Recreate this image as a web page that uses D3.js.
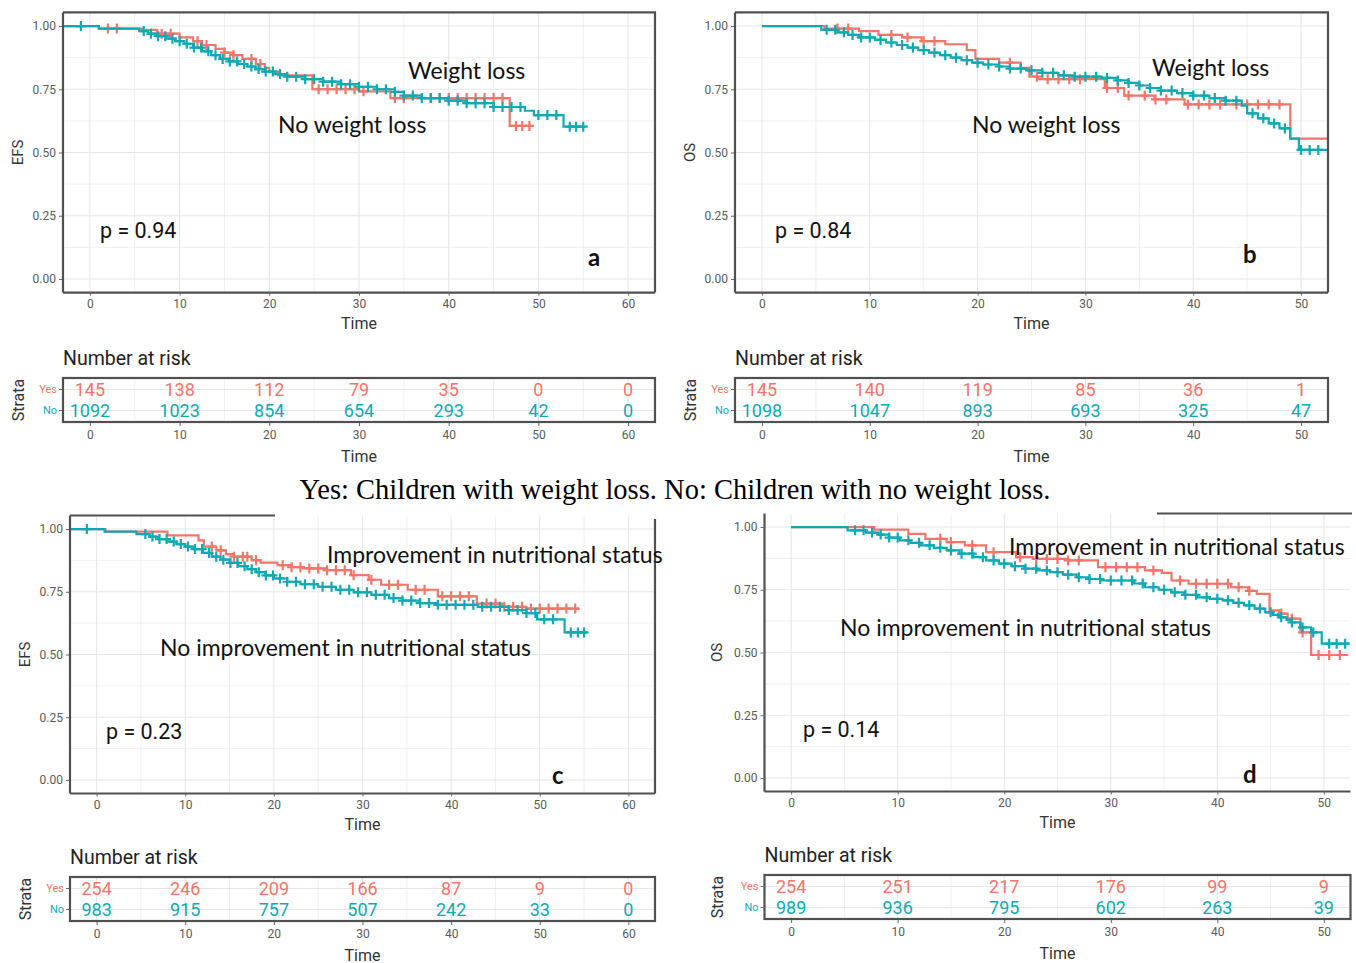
<!DOCTYPE html>
<html>
<head>
<meta charset="utf-8">
<script src="https://cdn.jsdelivr.net/npm/d3@7"></script>
<style>
  body { margin: 0; background: #fff; }
  svg { display: block; }
</style>
</head>
<body>
<svg id="fig" width="1356" height="963"></svg>
<script>
// ---- data ----
const strata = ['Yes', 'No'];
const survTicks = [0, 0.25, 0.5, 0.75, 1];
const timeTicks60 = [0, 10, 20, 30, 40, 50, 60];
const timeTicks50 = [0, 10, 20, 30, 40, 50];

// panel a: EFS, weight loss
const aYesSteps = [[-3, 1], [1, 0.99], [5.8, 0.985], [7.5, 0.97], [10, 0.955], [11.5, 0.94], [12.5, 0.925],
  [14, 0.91], [15, 0.895], [16, 0.885], [17, 0.87], [18.5, 0.85], [19.5, 0.835], [20, 0.82], [21, 0.805],
  [24.8, 0.75], [30, 0.742], [33.5, 0.715], [46.8, 0.605], [49.2, 0.605]];
const aYesCensor = [2, 3, 8, 9, 12, 13, 15, 16, 18, 19, 25.5, 26.5, 27.5, 28.5, 29.5, 30.5, 34, 35,
  38, 39, 40, 41, 42, 43, 44, 45, 46, 47.5, 48.2, 49];
const aNoSteps = [[-3, 1], [1, 0.99], [5.5, 0.98], [6.5, 0.97], [7.5, 0.96], [8.5, 0.95], [9.5, 0.94],
  [10.5, 0.93], [11.5, 0.915], [12.5, 0.9], [13.5, 0.885], [14.5, 0.87], [15.5, 0.86], [16.5, 0.85],
  [17.5, 0.84], [18.5, 0.83], [19.5, 0.82], [20.5, 0.81], [22, 0.8], [24, 0.79], [26, 0.78], [28, 0.77],
  [30, 0.76], [32, 0.75], [34, 0.74], [35, 0.725], [37, 0.715], [40, 0.705], [42, 0.695], [45, 0.68],
  [48.5, 0.665], [49.5, 0.648], [52.8, 0.602], [55.2, 0.602]];
const aNoCensor = [-1, 6, 6.8, 7.6, 8.4, 9.2, 10, 10.8, 11.6, 12.4, 13.2, 14, 14.8, 15.6, 16.4, 17.2, 18,
  18.8, 19.6, 20.4, 21.2, 22, 23, 24, 25, 26, 27, 28, 29, 30, 31, 32, 33, 34, 35, 36, 37, 38, 39, 40, 41,
  42, 43, 44, 45, 46, 47, 48, 50, 51, 52, 53.5, 54.2, 55];
const aRiskYes = [145, 138, 112, 79, 35, 0, 0];
const aRiskNo = [1092, 1023, 854, 654, 293, 42, 0];

// panel b: OS, weight loss
const bYesSteps = [[0, 1], [5.8, 0.99], [9, 0.98], [10.8, 0.965], [13, 0.955], [14.8, 0.94], [17, 0.928],
  [19, 0.905], [19.8, 0.87], [22, 0.855], [24, 0.835], [24.8, 0.8], [25.6, 0.79], [31.8, 0.755],
  [33.6, 0.725], [36.4, 0.71], [39.2, 0.69], [49, 0.555], [52.5, 0.555]];
const bYesCensor = [7, 8, 12, 13.5, 15, 16, 23, 25.5, 26.5, 27.5, 28.5, 29.5, 32, 33, 34, 35.5, 36.5,
  37.5, 39.5, 40.5, 41.5, 42.5, 44, 45, 46, 47, 48];
const bNoSteps = [[0, 1], [5.5, 0.985], [7, 0.975], [8, 0.965], [9, 0.955], [10.5, 0.945], [11.5, 0.935],
  [12.5, 0.925], [13.5, 0.915], [14.5, 0.905], [15.5, 0.895], [16.5, 0.885], [17.5, 0.875], [18.5, 0.865],
  [19.5, 0.855], [20.5, 0.848], [22, 0.84], [23, 0.832], [24.5, 0.825], [26, 0.815], [27.5, 0.805],
  [29, 0.8], [31.5, 0.795], [33, 0.785], [34, 0.775], [35, 0.765], [36, 0.755], [37, 0.745], [38.5, 0.735],
  [40, 0.725], [41.5, 0.715], [43, 0.705], [44.5, 0.685], [45, 0.655], [46, 0.635], [47, 0.615],
  [48, 0.595], [49, 0.555], [49.8, 0.51], [52.5, 0.51]];
const bNoCensor = [6, 6.8, 7.6, 8.4, 9.2, 10, 11, 12, 13, 14, 15, 16, 17, 18, 19, 20, 21, 22, 23, 24, 25,
  26, 27, 28, 29, 30, 31, 32, 33, 34, 35, 36, 37, 38, 39, 40, 41, 42, 43, 44, 45.5, 46.5, 47.5, 48.5,
  50, 50.8, 51.6];
const bRiskYes = [145, 140, 119, 85, 36, 1];
const bRiskNo = [1098, 1047, 893, 693, 325, 47];

// panel c: EFS, nutritional status
const cYesSteps = [[-3, 1], [1, 0.99], [8, 0.975], [11.5, 0.955], [12.1, 0.93], [13.5, 0.915], [14.6, 0.9],
  [15.5, 0.89], [17.5, 0.876], [18.5, 0.866], [20.4, 0.856], [22, 0.848], [23.3, 0.843], [25.8, 0.836],
  [28.7, 0.816], [30.7, 0.798], [32.1, 0.778], [35.1, 0.758], [38.5, 0.732], [42.9, 0.703], [45.8, 0.69],
  [48.5, 0.683], [54.4, 0.683]];
const cYesCensor = [13, 14, 15.5, 16.5, 17, 18, 21, 22, 23, 24, 25, 26, 27, 28, 29, 31, 33, 34, 36, 37,
  39, 40, 41, 42, 44, 45, 46, 47, 48, 49, 50, 51, 52, 53, 54];
const cNoSteps = [[-3, 1], [0.9, 0.99], [4.5, 0.98], [6, 0.97], [7, 0.96], [8, 0.95], [9, 0.94], [10, 0.93],
  [11, 0.92], [12, 0.905], [13, 0.89], [14, 0.878], [15, 0.865], [16, 0.852], [17, 0.84], [18, 0.828],
  [19, 0.815], [20, 0.803], [21.5, 0.79], [23, 0.78], [25, 0.77], [27, 0.758], [29, 0.748], [31, 0.738],
  [33, 0.725], [34.5, 0.715], [36.5, 0.705], [38.5, 0.698], [43, 0.69], [46.5, 0.677], [48.5, 0.665],
  [49.7, 0.64], [52.8, 0.588], [55.3, 0.588]];
const cNoCensor = [-1.1, 5.5, 6.3, 7.1, 7.9, 8.7, 9.5, 10.3, 11.1, 11.9, 12.7, 13.5, 14.3, 15.1, 15.9,
  16.7, 17.5, 18.3, 19.1, 19.9, 20.7, 21.5, 22.5, 23.5, 24.5, 25.5, 26.5, 27.5, 28.5, 29.5, 30.5, 31.5,
  32.5, 33.5, 34.5, 35.5, 36.5, 37.5, 38.5, 39.5, 40.5, 41.5, 42.5, 43.5, 44.5, 45.5, 46.5, 47.5, 48.5,
  49.5, 50.5, 51.5, 53.5, 54.3, 55];
const cRiskYes = [254, 246, 209, 166, 87, 9, 0];
const cRiskNo = [983, 915, 757, 507, 242, 33, 0];

// panel d: OS, nutritional status
const dYesSteps = [[0, 1], [7.8, 0.99], [11, 0.973], [12.6, 0.953], [14.6, 0.94], [16.3, 0.927], [18.3, 0.9],
  [21.1, 0.88], [22.7, 0.873], [26, 0.867], [28.8, 0.84], [33.2, 0.827], [34.8, 0.817], [35.7, 0.787],
  [37.3, 0.774], [41.3, 0.76], [42.9, 0.746], [43.7, 0.734], [44.9, 0.668], [45.8, 0.655], [46.6, 0.635],
  [47.8, 0.58], [48.8, 0.49], [52.3, 0.49]];
const dYesCensor = [14, 15, 17, 19, 21.5, 23, 24, 25, 26, 27, 29.5, 30.5, 31.5, 32.5, 34, 36.5, 38, 39,
  40, 41, 42, 43, 46, 47, 48, 49.5, 50.5, 51.5];
const dNoSteps = [[0, 1], [5.3, 0.987], [7, 0.978], [8.2, 0.97], [9.2, 0.958], [10.2, 0.947], [11.2, 0.937],
  [12.2, 0.927], [13.4, 0.917], [14.6, 0.907], [15.8, 0.894], [17.1, 0.88], [18.3, 0.867], [19.5, 0.854],
  [20.7, 0.844], [21.9, 0.834], [23.1, 0.827], [24.3, 0.82], [25.5, 0.81], [26.8, 0.8], [28, 0.793],
  [29.2, 0.787], [32.2, 0.775], [33.2, 0.76], [34.5, 0.75], [35.7, 0.74], [36.9, 0.73], [38.1, 0.72],
  [39.3, 0.714], [40.5, 0.708], [41.5, 0.698], [42.5, 0.688], [43.5, 0.675], [44.5, 0.66], [45.2, 0.65],
  [45.8, 0.64], [46.5, 0.63], [47, 0.62], [47.8, 0.6], [48.8, 0.58], [49.8, 0.535], [52.4, 0.535]];
const dNoCensor = [6, 6.8, 7.6, 8.4, 9.2, 10, 11, 12, 13, 14, 15, 16, 17, 18, 19, 20, 21, 22, 23, 24, 25,
  26, 27, 28, 29, 30, 31, 32, 33, 34, 35, 36, 37, 38, 39, 40, 41, 42, 43, 44, 45, 46, 47, 48, 49, 50.5,
  51.2, 52];
const dRiskYes = [254, 251, 217, 176, 99, 9];
const dRiskNo = [989, 936, 795, 602, 263, 39];

const caption = 'Yes: Children with weight loss. No: Children with no weight loss.';

// ---- styling ----
const RED = '#F2756A';
const TEAL = '#0FAAB1';
const GRID = '#E6E6E6';
const FRAME = '#505050';
const SANS = "Roboto, 'Liberation Sans', Arial, sans-serif";
const NOTE = "Lato, 'Open Sans', sans-serif";

const svg = d3.select('#fig');
svg.append('rect').attr('width', 1356).attr('height', 963).attr('fill', '#fff');

const stepValue = (steps, t) => {
  let s = steps[0][1];
  for (const [tt, v] of steps) {
    if (tt <= t) s = v;
    else break;
  }
  return s;
};

const styleAxis = (sel, size, fill) => {
  sel.select('.domain').remove();
  sel.selectAll('.tick line').attr('stroke', '#666');
  sel.selectAll('text')
    .attr('font-family', SANS)
    .attr('font-size', size)
    .attr('fill', fill);
};

const drawGrid = (g, x, xs, ys, top, bottom, left, right) => {
  const minorX = xs.map(t => t + 5).filter(t => x(t) < right);
  g.append('g').selectAll('line').data(minorX).join('line')
    .attr('x1', d => x(d)).attr('x2', d => x(d))
    .attr('y1', top).attr('y2', bottom)
    .attr('stroke', GRID).attr('stroke-width', 0.6);
  g.append('g').selectAll('line').data(xs).join('line')
    .attr('x1', d => x(d)).attr('x2', d => x(d))
    .attr('y1', top).attr('y2', bottom)
    .attr('stroke', GRID).attr('stroke-width', 1.1);
  g.append('g').selectAll('line').data(ys).join('line')
    .attr('x1', left).attr('x2', right)
    .attr('y1', d => d.y).attr('y2', d => d.y)
    .attr('stroke', GRID).attr('stroke-width', d => d.major ? 1.1 : 0.6);
};

const drawPanel = (c) => {
  const g = svg.append('g');
  const x = d3.scaleLinear().domain(c.xDomain).range([c.left, c.right]);
  const y = d3.scaleLinear().domain([-0.05, 1.05]).range([c.bottom, c.top]);

  const yGrid = survTicks.map(v => ({ y: y(v), major: true }))
    .concat([0.125, 0.375, 0.625, 0.875].map(v => ({ y: y(v), major: false })));
  drawGrid(g, x, c.ticks, yGrid, c.top, c.bottom, c.left, c.right);

  const line = d3.line()
    .x(d => x(d[0]))
    .y(d => y(d[1]))
    .curve(d3.curveStepAfter);

  c.curves.forEach(cv => {
    g.append('path')
      .attr('d', line(cv.steps))
      .attr('fill', 'none')
      .attr('stroke', cv.color)
      .attr('stroke-width', 2.2);
    g.append('g').selectAll('path').data(cv.censor).join('path')
      .attr('transform', d => `translate(${x(d)},${y(stepValue(cv.steps, d))})`)
      .attr('d', 'M-4.5,0H4.5M0,-5V5')
      .attr('stroke', cv.color)
      .attr('stroke-width', 2.2);
  });

  // frame (some borders are cut off in the original)
  const f = c.frame;
  const fr = g.append('g').attr('stroke', FRAME).attr('stroke-width', 2.2).attr('fill', 'none');
  fr.append('line').attr('x1', f.topFrom).attr('x2', f.topTo).attr('y1', c.top - 1).attr('y2', c.top - 1);
  fr.append('line').attr('x1', c.left).attr('x2', c.left).attr('y1', c.top - 1).attr('y2', c.bottom + 1);
  fr.append('line').attr('x1', c.left).attr('x2', c.right).attr('y1', c.bottom + 1).attr('y2', c.bottom + 1);
  if (f.rightFrom !== null) {
    fr.append('line').attr('x1', c.right).attr('x2', c.right).attr('y1', f.rightFrom).attr('y2', c.bottom + 1);
  }

  g.append('g')
    .attr('transform', `translate(${c.left - 1},0)`)
    .call(d3.axisLeft(y).tickValues(survTicks).tickFormat(d3.format('.2f')).tickSize(3).tickPadding(3))
    .call(a => styleAxis(a, 12, '#5a5a5a'));

  g.append('g')
    .attr('transform', `translate(0,${c.bottom + 1})`)
    .call(d3.axisBottom(x).tickValues(c.ticks).tickSize(3).tickPadding(4))
    .call(a => styleAxis(a, 12, '#5a5a5a'));

  g.append('text')
    .attr('x', x((c.ticks[0] + c.ticks[c.ticks.length - 1]) / 2))
    .attr('y', c.bottom + 32)
    .attr('text-anchor', 'middle')
    .attr('dominant-baseline', 'central')
    .attr('font-family', SANS).attr('font-size', 16).attr('fill', '#333')
    .text('Time');

  g.append('text')
    .attr('transform', `translate(${c.yTitleX},${y(0.5)}) rotate(-90)`)
    .attr('text-anchor', 'middle')
    .attr('dominant-baseline', 'central')
    .attr('font-family', SANS).attr('font-size', 15).attr('fill', '#333')
    .text(c.yTitle);

  c.notes.forEach(n => {
    g.append('text')
      .attr('x', n.x).attr('y', n.y)
      .attr('dominant-baseline', 'central')
      .attr('font-family', n.family).attr('font-size', n.size)
      .attr('font-weight', n.bold ? 'bold' : 'normal')
      .attr('fill', '#111')
      .text(n.text);
  });

  return x;
};

const drawRisk = (c, x) => {
  const g = svg.append('g');
  const r = c.risk;
  const y = d3.scaleBand().domain(strata).range([r.top + 1, r.bottom - 1]);
  const rowY = s => y(s) + y.bandwidth() / 2;

  drawGrid(g, x, c.ticks, strata.map(s => ({ y: rowY(s), major: true })), r.top, r.bottom, c.left, c.right);

  g.append('rect')
    .attr('x', c.left).attr('y', r.top)
    .attr('width', c.right - c.left).attr('height', r.bottom - r.top)
    .attr('fill', 'none').attr('stroke', FRAME).attr('stroke-width', 2.2);

  const rows = [{ key: 'Yes', vals: r.yes, color: RED }, { key: 'No', vals: r.no, color: TEAL }];
  rows.forEach(row => {
    g.append('g').selectAll('text').data(row.vals).join('text')
      .attr('x', (d, i) => x(c.ticks[i]))
      .attr('y', rowY(row.key))
      .attr('text-anchor', 'middle')
      .attr('dominant-baseline', 'central')
      .attr('font-family', SANS).attr('font-size', 18)
      .attr('fill', row.color)
      .text(d => d);
  });

  const ya = g.append('g')
    .attr('transform', `translate(${c.left - 1},0)`)
    .call(d3.axisLeft(y).tickSize(3).tickPadding(2))
    .call(a => styleAxis(a, 11, '#888'));
  ya.selectAll('.tick text').attr('fill', d => d === 'Yes' ? RED : TEAL);

  g.append('g')
    .attr('transform', `translate(0,${r.bottom + 1})`)
    .call(d3.axisBottom(x).tickValues(c.ticks).tickSize(3).tickPadding(4))
    .call(a => styleAxis(a, 12, '#5a5a5a'));

  g.append('text')
    .attr('x', x((c.ticks[0] + c.ticks[c.ticks.length - 1]) / 2))
    .attr('y', r.bottom + 34)
    .attr('text-anchor', 'middle')
    .attr('dominant-baseline', 'central')
    .attr('font-family', SANS).attr('font-size', 16).attr('fill', '#333')
    .text('Time');

  g.append('text')
    .attr('x', c.left).attr('y', r.top - 20)
    .attr('dominant-baseline', 'central')
    .attr('font-family', SANS).attr('font-size', 19.5).attr('fill', '#222')
    .text('Number at risk');

  g.append('text')
    .attr('transform', `translate(${c.yTitleX},${(r.top + r.bottom) / 2}) rotate(-90)`)
    .attr('text-anchor', 'middle')
    .attr('dominant-baseline', 'central')
    .attr('font-family', SANS).attr('font-size', 16).attr('fill', '#333')
    .text('Strata');
};

const note = (text, x, y, size, family, bold) => ({ text, x, y, size, family, bold });

const panels = [
  {
    left: 63, right: 655, top: 13.4, bottom: 291.6, xDomain: [-3, 63], ticks: timeTicks60,
    yTitle: 'EFS', yTitleX: 18,
    frame: { topFrom: 63, topTo: 656, rightFrom: 12 },
    curves: [
      { steps: aYesSteps, censor: aYesCensor, color: RED },
      { steps: aNoSteps, censor: aNoCensor, color: TEAL }
    ],
    notes: [
      note('Weight loss', 408, 70, 23, NOTE, false),
      note('No weight loss', 278, 124, 23, NOTE, false),
      note('p = 0.94', 100, 230, 21.5, SANS, false),
      note('a', 588, 256, 24, NOTE, true)
    ],
    risk: { top: 378, bottom: 422, yes: aRiskYes, no: aRiskNo }
  },
  {
    left: 735, right: 1328, top: 13.4, bottom: 291.6, xDomain: [-2.5, 52.5], ticks: timeTicks50,
    yTitle: 'OS', yTitleX: 690,
    frame: { topFrom: 735, topTo: 1329, rightFrom: 12 },
    curves: [
      { steps: bYesSteps, censor: bYesCensor, color: RED },
      { steps: bNoSteps, censor: bNoCensor, color: TEAL }
    ],
    notes: [
      note('Weight loss', 1152, 67, 23, NOTE, false),
      note('No weight loss', 972, 124, 23, NOTE, false),
      note('p = 0.84', 775, 230, 21.5, SANS, false),
      note('b', 1243, 253, 24, NOTE, true)
    ],
    risk: { top: 378, bottom: 422, yes: bRiskYes, no: bRiskNo }
  },
  {
    left: 70, right: 655, top: 516.5, bottom: 792.5, xDomain: [-3, 63], ticks: timeTicks60,
    yTitle: 'EFS', yTitleX: 25,
    frame: { topFrom: 70, topTo: 275, rightFrom: 519 },
    curves: [
      { steps: cYesSteps, censor: cYesCensor, color: RED },
      { steps: cNoSteps, censor: cNoCensor, color: TEAL }
    ],
    notes: [
      note('Improvement in nutritional status', 327, 554, 23, NOTE, false),
      note('No improvement in nutritional status', 160, 647, 23, NOTE, false),
      note('p = 0.23', 106, 731, 21.5, SANS, false),
      note('c', 552, 774, 24, NOTE, true)
    ],
    risk: { top: 877, bottom: 921, yes: cRiskYes, no: cRiskNo }
  },
  {
    left: 764.5, right: 1350.5, top: 514.5, bottom: 790.5, xDomain: [-2.5, 52.5], ticks: timeTicks50,
    yTitle: 'OS', yTitleX: 717,
    frame: { topFrom: 1157, topTo: 1352, rightFrom: null },
    curves: [
      { steps: dYesSteps, censor: dYesCensor, color: RED },
      { steps: dNoSteps, censor: dNoCensor, color: TEAL }
    ],
    notes: [
      note('Improvement in nutritional status', 1009, 546, 23, NOTE, false),
      note('No improvement in nutritional status', 840, 627, 23, NOTE, false),
      note('p = 0.14', 803, 729, 21.5, SANS, false),
      note('d', 1243, 773, 24, NOTE, true)
    ],
    risk: { top: 875, bottom: 919, yes: dRiskYes, no: dRiskNo }
  }
];

panels.forEach(p => {
  const x = drawPanel(p);
  drawRisk(p, x);
});

svg.append('text')
  .attr('x', 675).attr('y', 489)
  .attr('text-anchor', 'middle')
  .attr('dominant-baseline', 'central')
  .attr('font-family', "'Liberation Serif', 'Times New Roman', serif")
  .attr('font-size', 28.5)
  .attr('fill', '#000')
  .text(caption);
</script>
</body>
</html>
